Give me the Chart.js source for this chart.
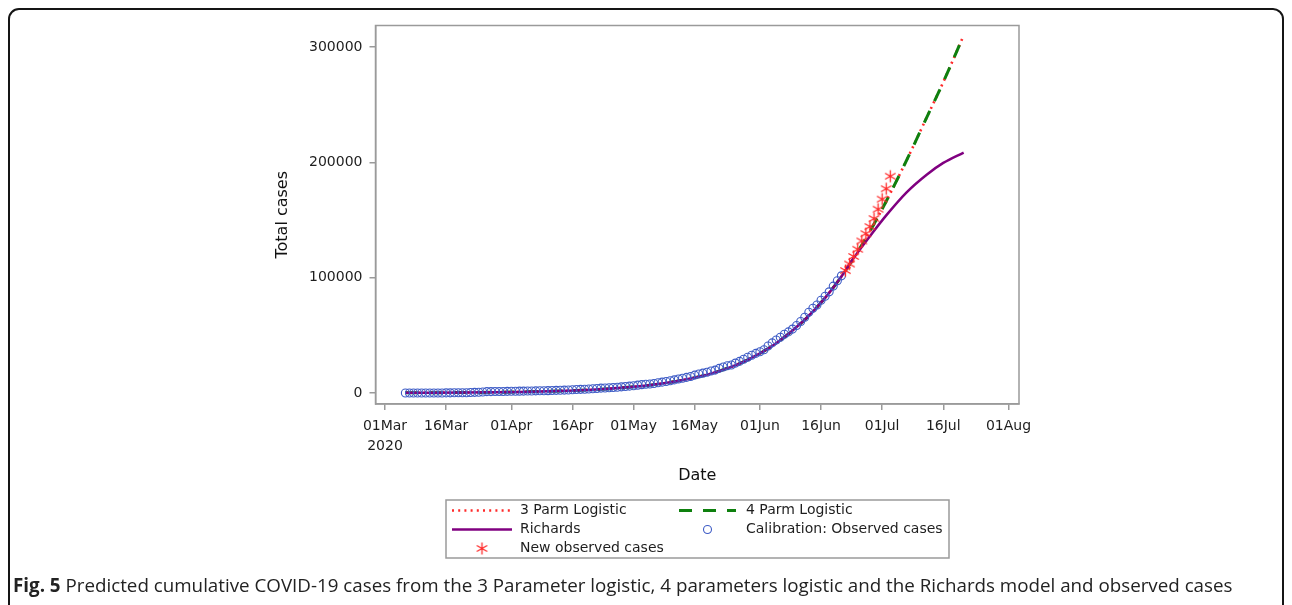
<!DOCTYPE html>
<html>
<head>
<meta charset="utf-8">
<script src="https://cdn.jsdelivr.net/npm/chart.js@4.4.1/dist/chart.umd.min.js"></script>
<style>
  html, body { margin: 0; padding: 0; background: #fff; }
  body { width: 1292px; height: 605px; position: relative; overflow: hidden; }
  #chart { position: absolute; left: 0; top: 0; }
  #panel { position: absolute; left: 8px; top: 8px; width: 1276px; height: 700px;
           border: 2px solid #151515; border-radius: 11px; box-sizing: border-box; pointer-events: none; }
  #caption { position: absolute; left: 13px; top: 572px; font-family: 'Open Sans', sans-serif;
             font-size: 18.78px; line-height: 26px; color: #222; white-space: nowrap; }
  #caption b { font-weight: 700; }
</style>
</head>
<body>
<canvas id="chart" width="1292" height="605"></canvas>
<div id="panel"></div>
<div id="caption"><b>Fig. 5</b> Predicted cumulative COVID-19 cases from the 3 Parameter logistic, 4 parameters logistic and the Richards model and observed cases</div>
<script>
// Axis ticks: x values are days counted from 01Mar2020
const xTickDays = [0, 15, 31, 46, 61, 76, 92, 107, 122, 137, 153];
const xTickLabels = [['01Mar', '2020'], '16Mar', '01Apr', '16Apr', '01May', '16May', '01Jun', '16Jun', '01Jul', '16Jul', '01Aug'];
const yTickValues = [0, 100000, 200000, 300000];

// Observed cumulative cases used for calibration (one value per day)
const calibStartDay = 5;
const calibCases = [
  2, 3, 7, 7, 13, 16, 24, 38, 51, 62, 85, 116, 150, 202, 240, 274, 402, 554, 709, 927, 1170, 1187, 1280, 1326, 1353,
  1380, 1462, 1505, 1585, 1655, 1686, 1749, 1845, 1934, 2003, 2028, 2173, 2272, 2415, 2506, 2605, 2783, 3034, 3158, 3300,
  3465, 3635, 3953, 4220, 4361, 4546, 4793, 4996, 5350, 5647,
  5951, 6336, 6783, 7220, 7572, 7808, 8232, 8895, 9420, 10015, 10652, 11350, 12074, 12739, 13524, 14355, 15515, 16433,
  17200, 18003, 19137, 19845, 21343, 22583, 23615, 24264, 25937, 27403, 29240, 30967, 32683,
  34357, 35812, 37525, 40792, 43434, 45973, 48285, 50879, 52991, 55421, 58568, 61927, 65736, 70038, 73533, 76334,
  80412, 83890, 87715, 92681, 97302, 101590
];

// Newly observed cumulative cases after the calibration window
const newStartDay = 113;
const newCases = [106108, 111796, 118375, 124590, 131800, 138134, 144264, 151209, 159333, 168061, 177124, 187977];

// Model predictions sampled along the fitted curves
const modelDays = [5, 12, 19, 26, 33, 40, 47, 54, 61, 68, 75, 82, 89, 96, 103, 108, 112, 115, 119, 123, 128, 133, 137, 142];
const logistic3 = [170, 260, 400, 610, 950, 1460, 2250, 3460, 5330, 8180, 12500, 19000, 28800, 43100, 63500, 82600,
                   101000, 116800, 140200, 166300, 201800, 239400, 269600, 310000];
const logistic4 = [170, 260, 400, 610, 950, 1460, 2250, 3460, 5330, 8180, 12500, 19000, 28800, 43100, 63500, 82600,
                   101000, 116800, 140200, 166300, 201800, 239400, 269600, 310000];
const richards  = [170, 260, 400, 610, 950, 1460, 2250, 3460, 5330, 8180, 12500, 19000, 28800, 43100, 63500, 82500,
                   101000, 117000, 136000, 154000, 174000, 189500, 199500, 208500];

const toPoints = (days, vals) => vals.map((v, i) => ({ x: days[i], y: v }));
const runPoints = (start, vals) => vals.map((v, i) => ({ x: start + i, y: v }));

const AXIS_GREY = '#9a9a9a';
const TEXT = '#1e1e1e';

// Six-armed asterisk marker
function makeAsterisk(color, r) {
  const size = Math.ceil(r * 2 + 3);
  const c = document.createElement('canvas');
  c.width = size; c.height = size;
  const g = c.getContext('2d');
  g.strokeStyle = color;
  g.lineWidth = 1.3;
  const cx = size / 2, cy = size / 2;
  g.beginPath();
  for (const a of [90, 30, 150]) {
    const t = a * Math.PI / 180;
    g.moveTo(cx - r * Math.cos(t), cy - r * Math.sin(t));
    g.lineTo(cx + r * Math.cos(t), cy + r * Math.sin(t));
  }
  g.stroke();
  return c;
}
const starMarker = makeAsterisk('#ff2a2a', 6);

Chart.defaults.font.family = '"DejaVu Sans", sans-serif';
Chart.defaults.color = TEXT;

// Draw order: earlier datasets are painted on top
const datasets = [
  { label: 'New observed cases', data: runPoints(newStartDay, newCases),
    pointStyle: starMarker, pointRadius: 6, showLine: false },
  { label: 'Calibration: Observed cases', data: runPoints(calibStartDay, calibCases),
    pointStyle: 'circle', pointRadius: 4, borderColor: '#3e5cc6', backgroundColor: 'rgba(0,0,0,0)',
    borderWidth: 1.1, showLine: false },
  { label: 'Richards', data: toPoints(modelDays, richards), showLine: true,
    borderColor: '#800080', borderWidth: 2.5, pointRadius: 0, cubicInterpolationMode: 'monotone' },
  { label: '4 Parm Logistic', data: toPoints(modelDays, logistic4), showLine: true,
    borderColor: '#0e800e', borderWidth: 3, borderDash: [13, 11], pointRadius: 0, cubicInterpolationMode: 'monotone' },
  { label: '3 Parm Logistic', data: toPoints(modelDays, logistic3), showLine: true,
    borderColor: '#ff2a2a', borderWidth: 2.6, borderDash: [2, 4.2], pointRadius: 0, cubicInterpolationMode: 'monotone' }
];

// Plot frame around the chart area
const framePlugin = {
  id: 'plotFrame',
  afterDraw(chart) {
    const { ctx, chartArea: a } = chart;
    ctx.save();
    ctx.strokeStyle = AXIS_GREY;
    ctx.lineWidth = 1.5;
    ctx.strokeRect(a.left, a.top, a.right - a.left, a.bottom - a.top);
    ctx.restore();
  }
};

// Boxed two-column legend below the plot
const legendLayout = [
  { label: '3 Parm Logistic', col: 0, row: 0 },
  { label: '4 Parm Logistic', col: 1, row: 0 },
  { label: 'Richards', col: 0, row: 1 },
  { label: 'Calibration: Observed cases', col: 1, row: 1 },
  { label: 'New observed cases', col: 0, row: 2 }
];
const legendBox = { x: 446, y: 500, w: 503, h: 58 };
const legendRowsY = [510.5, 529.5, 548.5];
const legendCols = [{ x0: 452, x1: 512, text: 520 }, { x0: 679, x1: 736, text: 746 }];

const boxLegendPlugin = {
  id: 'boxLegend',
  afterDraw(chart) {
    const ctx = chart.ctx;
    ctx.save();
    ctx.strokeStyle = AXIS_GREY;
    ctx.lineWidth = 1.5;
    ctx.strokeRect(legendBox.x, legendBox.y, legendBox.w, legendBox.h);
    ctx.font = '14px "DejaVu Sans"';
    ctx.textBaseline = 'middle';
    ctx.textAlign = 'left';
    for (const item of legendLayout) {
      const ds = chart.data.datasets.find(d => d.label === item.label);
      const col = legendCols[item.col];
      const y = legendRowsY[item.row];
      ctx.save();
      if (ds.showLine) {
        ctx.strokeStyle = ds.borderColor;
        ctx.lineWidth = ds.borderWidth;
        ctx.setLineDash(ds.borderDash || []);
        ctx.beginPath();
        ctx.moveTo(col.x0, y);
        ctx.lineTo(col.x1, y);
        ctx.stroke();
      } else {
        const cx = (col.x0 + col.x1) / 2;
        if (ds.pointStyle === 'circle') {
          ctx.strokeStyle = ds.borderColor;
          ctx.lineWidth = ds.borderWidth;
          ctx.beginPath();
          ctx.arc(cx, y, ds.pointRadius, 0, Math.PI * 2);
          ctx.stroke();
        } else {
          const img = ds.pointStyle;
          ctx.drawImage(img, cx - img.width / 2, y - img.height / 2);
        }
      }
      ctx.restore();
      ctx.fillStyle = TEXT;
      ctx.fillText(item.label, col.text, y);
    }
    ctx.restore();
  }
};

const axisGrid = { drawOnChartArea: false, drawTicks: true, tickLength: 6, color: AXIS_GREY, lineWidth: 1.5 };
const axisBorder = { display: true, color: AXIS_GREY, width: 1.5 };

new Chart(document.getElementById('chart'), {
  type: 'scatter',
  data: { datasets },
  options: {
    responsive: false,
    animation: false,
    layout: { padding: { left: 265, right: 273, top: 25.5, bottom: 120 } },
    plugins: { legend: { display: false }, tooltip: { enabled: false } },
    scales: {
      x: {
        type: 'linear', min: -2.33, max: 155.58,
        afterBuildTicks: s => { s.ticks = xTickDays.map(v => ({ value: v })); },
        afterFit: s => { s.height = 81; },
        grid: axisGrid, border: axisBorder,
        ticks: {
          autoSkip: false, maxRotation: 0, padding: 6, color: TEXT,
          font: { size: 14, lineHeight: 1.43 },
          callback: v => xTickLabels[xTickDays.indexOf(v)]
        },
        title: { display: true, text: 'Date', color: '#111', font: { size: 16 }, padding: { top: 0, bottom: 0 } }
      },
      y: {
        type: 'linear', min: -9540, max: 318640,
        afterBuildTicks: s => { s.ticks = yTickValues.map(v => ({ value: v })); },
        afterFit: s => { s.width = 110.5; },
        grid: axisGrid, border: axisBorder,
        ticks: { padding: 7, color: TEXT, font: { size: 14 }, callback: v => String(v) },
        title: { display: true, text: 'Total cases', color: '#111', font: { size: 16 }, padding: { top: 8.4, bottom: 0 } }
      }
    }
  },
  plugins: [framePlugin, boxLegendPlugin]
});
</script>
</body>
</html>
